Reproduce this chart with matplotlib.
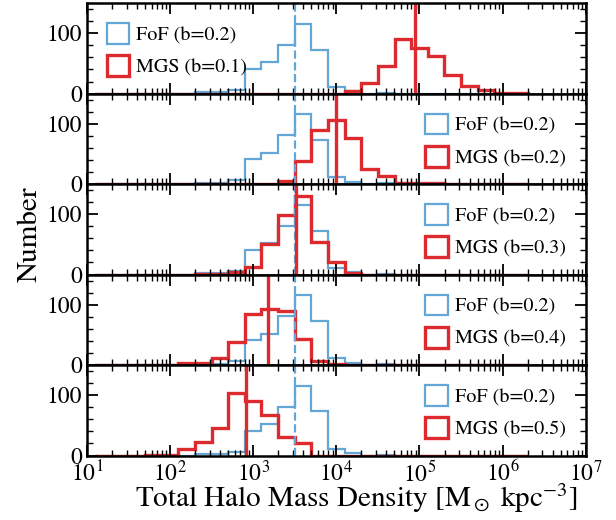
import numpy as np
import matplotlib
matplotlib.use('Agg')
import matplotlib.pyplot as plt
from matplotlib.patches import Patch
from matplotlib.ticker import MultipleLocator, LogLocator, NullFormatter

plt.rcParams['font.family'] = 'STIXGeneral'
plt.rcParams['mathtext.fontset'] = 'stix'

# bin edges in log10(density), 0.2 dex bins
log_edges = [1.1, 1.3, 1.5, 1.7, 1.9, 2.1, 2.3, 2.5, 2.7, 2.9, 3.1, 3.3, 3.5, 3.7,
             3.9, 4.1, 4.3, 4.5, 4.7, 4.9, 5.1, 5.3, 5.5, 5.7, 5.9, 6.1, 6.3]

# FoF (b=0.2), same in every panel
fof_counts = [0, 0, 0, 0, 0, 0, 2, 2, 6, 41, 52, 81, 116, 73, 11, 4, 0, 1, 0, 0, 0, 0, 0, 0, 0, 0]
fof_median = 10**3.5

# MGS counts for each linking length
mgs_b = ['0.1', '0.2', '0.3', '0.4', '0.5']
mgs_counts = [
    [0, 0, 0, 0, 0, 0, 0, 0, 0, 0, 0, 0, 0, 0, 0, 4, 18, 45, 90, 75, 62, 31, 12, 6, 1, 1],
    [0, 0, 0, 0, 0, 0, 0, 0, 0, 0, 0, 5, 38, 89, 107, 77, 25, 14, 2, 1, 1, 0, 0, 0, 0, 0],
    [0, 0, 0, 0, 0, 0, 1, 1, 4, 12, 51, 98, 131, 54, 21, 3, 0, 0, 0, 0, 0, 0, 0, 0, 0, 0],
    [0, 0, 0, 0, 0, 3, 3, 12, 38, 85, 93, 90, 43, 7, 2, 0, 0, 0, 0, 0, 0, 0, 0, 0, 0, 0],
    [0, 0, 0, 1, 1, 10, 23, 45, 103, 90, 68, 31, 21, 0, 0, 0, 0, 0, 0, 0, 0, 0, 0, 0, 0, 0],
]
mgs_median = [10**4.95, 10**4.0, 10**3.52, 10**3.18, 10**2.91]

blue = '#64a6d6'
red = '#dc2a2e'
edges = 10**np.array(log_edges)

fig, axes = plt.subplots(5, 1, sharex=True, figsize=(6.16, 5.2), dpi=100)
fig.subplots_adjust(left=0.141, right=0.951, top=0.994, bottom=0.124, hspace=0)

for i, ax in enumerate(axes):
    ax.stairs(fof_counts, edges, color=blue, lw=1.6)
    ax.stairs(mgs_counts[i], edges, color=red, lw=2.4)
    ax.axvline(fof_median, color=blue, lw=1.6, ls='--')
    ax.axvline(mgs_median[i], color=red, lw=2.4)
    ax.set_xscale('log')
    ax.set_xlim(1e1, 1e7)
    ax.set_ylim(0, 150)
    ax.yaxis.set_major_locator(MultipleLocator(100))
    ax.yaxis.set_minor_locator(MultipleLocator(20))
    ax.xaxis.set_major_locator(LogLocator(base=10, numticks=10))
    ax.xaxis.set_minor_locator(LogLocator(base=10, subs=np.arange(2, 10), numticks=20))
    ax.xaxis.set_minor_formatter(NullFormatter())
    ax.tick_params(which='both', direction='in', top=True, right=True, labelsize=17)
    ax.tick_params(which='major', length=8, width=1.3)
    ax.tick_params(which='minor', length=4, width=1)
    for s in ax.spines.values():
        s.set_linewidth(1.8)
    handles = [Patch(facecolor='none', edgecolor=blue, lw=1.6, label='FoF (b=0.2)'),
               Patch(facecolor='none', edgecolor=red, lw=2.4, label='MGS (b=%s)' % mgs_b[i])]
    loc = 'upper left' if i == 0 else 'upper right'
    ax.legend(handles=handles, loc=loc, frameon=False, fontsize=14.5,
              handlelength=1.1, handleheight=1.2, handletextpad=0.35,
              borderaxespad=0.6, labelspacing=0.55)

axes[-1].set_xlabel(r'Total Halo Mass Density [M$_\odot$ kpc$^{-3}$]', fontsize=21)
axes[-1].xaxis.set_label_coords(0.54, -0.29)
fig.text(0.049, 0.55, 'Number', rotation=90, fontsize=21, ha='center', va='center')

plt.savefig('out.png')
